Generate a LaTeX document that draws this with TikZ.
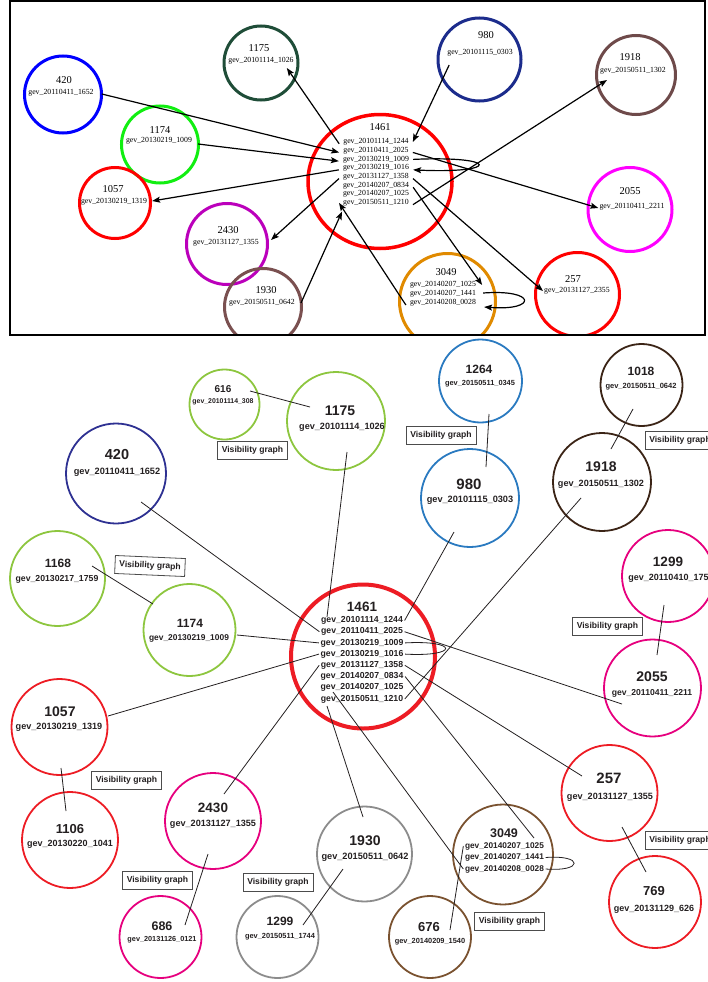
\documentclass[tikz,border=0pt]{standalone}
\usepackage{fontspec}
\setmainfont{Liberation Serif}
\newfontfamily\arialfont{Liberation Sans}
\usetikzlibrary{arrows.meta,calc,shapes.geometric}
\definecolor{tblue}{HTML}{0000FF}
\definecolor{tdgreen}{HTML}{1F4D38}
\definecolor{tgreen}{HTML}{11EE11}
\definecolor{tred}{HTML}{FF0000}
\definecolor{tpurple}{HTML}{BB00BB}
\definecolor{tbrown}{HTML}{7A5050}
\definecolor{tnavy}{HTML}{1C2C8C}
\definecolor{tbrowntwo}{HTML}{6E4A4A}
\definecolor{tmag}{HTML}{FF00FF}
\definecolor{torange}{HTML}{E08A00}
\definecolor{bgreen}{HTML}{8DC63F}
\definecolor{bnavy}{HTML}{2E3192}
\definecolor{bblue}{HTML}{2A7AC0}
\definecolor{bdbrown}{HTML}{3B2416}
\definecolor{bmag}{HTML}{E6007E}
\definecolor{bred}{HTML}{ED1C24}
\definecolor{bgrey}{HTML}{8C8C8C}
\definecolor{bbrown}{HTML}{7A5230}
\definecolor{btext}{HTML}{231F20}
\tikzset{
  tc/.style={circle, draw, inner sep=0pt, line width=3pt, minimum size=#1},
  bc/.style={circle, draw, inner sep=0pt, line width=1.8pt, minimum size=#1},
  tlab/.style={inner xsep=4pt, inner ysep=1pt, font=\fontsize{7.8}{8}\selectfont},
  ttit/.style={inner sep=1pt, font=\fontsize{10.5}{11}\selectfont},
  btit/.style={inner sep=1pt, text=btext, font=\arialfont\bfseries\fontsize{#1}{#1}\selectfont},
  blab/.style={inner sep=1.5pt, text=btext, font=\arialfont\bfseries\fontsize{#1}{#1}\selectfont},
  arr/.style={line width=1.2pt, -{Stealth[length=8pt,width=6pt,inset=1.5pt]}},
  bl/.style={line width=0.8pt, draw=btext},
  vg/.style={draw=black!70, line width=0.8pt, fill=white, minimum width=70pt, minimum height=18pt, inner sep=0pt, text=btext, font=\arialfont\bfseries\fontsize{8.6}{9}\selectfont}
}
\begin{document}
\begin{tikzpicture}[x=1pt,y=-1pt]
\useasboundingbox (0,0) rectangle (707,982);
% ================= TOP PANEL =================
\begin{scope}
\clip (10,1) rectangle (704.5,334.5);
\node[tc=77, draw=tblue] (c420) at (63,94.5) {};
\node[tc=74, draw=tdgreen] (c1175) at (261,63) {};
\node[tc=77, draw=tgreen] (c1174) at (160,144.5) {};
\node[tc=71, draw=tred] (c1057) at (115,203) {};
\node[tc=81, draw=tpurple] (c2430) at (227,244) {};
\node[tc=77, draw=tbrown] (c1930) at (263,307) {};
\node[ellipse, draw=tred, line width=3.5pt, inner sep=0pt, minimum width=144pt, minimum height=134pt] (c1461) at (380,181.5) {};
\node[tc=83, draw=tnavy] (c980) at (479.5,59.5) {};
\node[tc=79, draw=tbrowntwo] (c1918) at (636,75) {};
\node[tc=84, draw=tmag] (c2055) at (630,209.5) {};
\node[tc=96, draw=torange] (c3049) at (447.5,301.5) {};
\node[tc=84, draw=tred] (c257) at (577.5,294.5) {};
% texts
\node[ttit] (t420a) at (64,80) {420};
\node[tlab] (t420l) at (61,93) {gev\_20110411\_1652};
\node[ttit] (t1175a) at (259,48) {1175};
\node[tlab] (t1175l) at (261,61) {gev\_20101114\_1026};
\node[ttit] (t1174a) at (160,130) {1174};
\node[tlab] (t1174l) at (159,141) {gev\_20130219\_1009};
\node[ttit] (t1057a) at (113,189) {1057};
\node[tlab] (t1057l) at (114,202) {gev\_20130219\_1319};
\node[ttit] (t2430a) at (228,230) {2430};
\node[tlab] (t2430l) at (226,243) {gev\_20131127\_1355};
\node[ttit] (t1930a) at (266,290) {1930};
\node[tlab] (t1930l) at (262,303) {gev\_20150511\_0642};
\node[ttit] (t1461a) at (380,127) {1461};
\node[tlab] (T1) at (376,142) {gev\_20101114\_1244};
\node[tlab] (T2) at (376,150.7) {gev\_20110411\_2025};
\node[tlab] (T3) at (376,159.4) {gev\_20130219\_1009};
\node[tlab] (T4) at (376,168.1) {gev\_20130219\_1016};
\node[tlab] (T5) at (376,176.8) {gev\_20131127\_1358};
\node[tlab] (T6) at (376,185.5) {gev\_20140207\_0834};
\node[tlab] (T7) at (376,194.2) {gev\_20140207\_1025};
\node[tlab] (T8) at (376,202.9) {gev\_20150511\_1210};
\node[ttit] (t980a) at (486,35) {980};
\node[tlab] (t980l) at (480,53) {gev\_20101115\_0303};
\node[ttit] (t1918a) at (630,57) {1918};
\node[tlab] (t1918l) at (633,71) {gev\_20150511\_1302};
\node[ttit] (t2055a) at (630,191) {2055};
\node[tlab] (t2055l) at (632,207) {gev\_20110411\_2211};
\node[ttit] (t3049t) at (446,272) {3049};
\node[tlab] (t3049a) at (443,285) {gev\_20140207\_1025};
\node[tlab] (t3049b) at (443,294) {gev\_20140207\_1441};
\node[tlab] (t3049c) at (443,303) {gev\_20140208\_0028};
\node[ttit] (t257a) at (573,279) {257};
\node[tlab] (t257l) at (577,291) {gev\_20131127\_2355};
% arrows
\draw[arr] ($(t420l.east)+(4,1)$) -- (T2.base west);
\draw[arr] ($(t1174l.east)+(2,3)$) -- (T3.base west);
\draw[arr] (T4.base west) -- ($(t1057l.east)+(1,-1)$);
\draw[arr] (T1.base west) -- ($(t1175l.east)+(-11,7)$);
\draw[arr] ($(t980l.west)+(6,12)$) -- (T1.east);
\draw[arr] (T8.base east) -- ($(t1918l.west)+(11,9)$);
\draw[arr] (T2.base east) -- ($(t2055l.west)+(3,1)$);
\draw[arr] (T3.east) .. controls +(87,-4) and +(87,4) .. (T4.base east);
\draw[arr] (T5.base west) -- ($(t2430l.east)+(8,-3)$);
\draw[arr] ($(t1930l.east)+(2,0)$) -- ($(T8.base west)+(3,7)$);
\draw[arr] ($(t3049c.west)+(0,2)$) -- (T8.west);
\draw[arr] (T6.base east) -- ($(t3049a.east)+(2,0)$);
\draw[arr] (T5.base east) -- ($(t257l.west)+(3,0)$);
\draw[arr] ($(t3049b.east)+(3,-1)$) .. controls +(54,-4) and +(53,4) .. ($(t3049c.east)+(4,4)$);
\end{scope}
\draw[line width=2pt] (10,1) rectangle (704.5,334.5);
% ================= BOTTOM PANEL =================
\node[bc=70, draw=bgreen] (b616) at (224.5,404.5) {};
\node[bc=98, draw=bgreen] (b1175) at (336,421) {};
\node[bc=100, draw=bnavy] (b420) at (116,473.5) {};
\node[bc=95, draw=bgreen] (b1168) at (57.5,578.5) {};
\node[bc=92, draw=bgreen] (b1174) at (189.5,630) {};
\node[bc=83, draw=bblue] (b1264) at (480.5,381) {};
\node[bc=98, draw=bblue] (b980) at (470,498) {};
\node[bc=82, draw=bdbrown] (b1018) at (641.5,385) {};
\node[bc=98, draw=bdbrown] (b1918) at (602,482) {};
\node[bc=92, draw=bmag] (b1299a) at (668,576) {};
\node[bc=97, draw=bmag] (b2055) at (652.5,688) {};
\node[bc=96, draw=bred] (b257) at (609.5,793) {};
\node[bc=92, draw=bred] (b769) at (655,902) {};
\node[bc=100, draw=bbrown] (b3049) at (503,854.5) {};
\node[bc=82, draw=bbrown] (b676) at (430,937) {};
\node[bc=95, draw=bgrey] (b1930) at (364.5,854) {};
\node[bc=82, draw=bgrey] (b1299b) at (277.5,937) {};
\node[bc=96, draw=bmag] (b2430) at (213,821) {};
\node[bc=82, draw=bmag] (b686) at (160.5,937) {};
\node[bc=96, draw=bred] (b1057) at (59.5,727) {};
\node[bc=96, draw=bred] (b1106) at (70,840) {};
\node[circle, draw=bred, line width=4pt, inner sep=0pt, minimum size=144pt] (b1461) at (363,656.5) {};
% texts
\node[btit=10] (s616a) at (223,389) {616};
\node[blab=6.9] (s616l) at (223,402) {gev\_20101114\_308};
\node[btit=14] (s1175a) at (340,411) {1175};
\node[blab=9.1] (s1175l) at (342,427) {gev\_20101114\_1026};
\node[btit=14.5] (s420a) at (117,455) {420};
\node[blab=9.2] (s420l) at (117,472) {gev\_20110411\_1652};
\node[btit=12] (s1168a) at (58,563) {1168};
\node[blab=8.7] (s1168l) at (57,579) {gev\_20130217\_1759};
\node[btit=12] (s1174a) at (190,623) {1174};
\node[blab=8.4] (s1174l) at (189,638) {gev\_20130219\_1009};
\node[btit=13.5] (s1461a) at (362,607) {1461};
\node[blab=8.7] (B1) at (362,620.5) {gev\_20101114\_1244};
\node[blab=8.7] (B2) at (362,631.7) {gev\_20110411\_2025};
\node[blab=8.7] (B3) at (362,642.9) {gev\_20130219\_1009};
\node[blab=8.7] (B4) at (362,654.1) {gev\_20130219\_1016};
\node[blab=8.7] (B5) at (362,665.3) {gev\_20131127\_1358};
\node[blab=8.7] (B6) at (362,676.5) {gev\_20140207\_0834};
\node[blab=8.7] (B7) at (362,687.7) {gev\_20140207\_1025};
\node[blab=8.7] (B8) at (362,698.9) {gev\_20150511\_1210};
\node[btit=12] (s1264a) at (479,369) {1264};
\node[blab=7.4] (s1264l) at (480,384) {gev\_20150511\_0345};
\node[btit=15] (s980a) at (469,484) {980};
\node[blab=9.2] (s980l) at (470,500) {gev\_20101115\_0303};
\node[btit=12] (s1018a) at (641,371) {1018};
\node[blab=7.5] (s1018l) at (641,387) {gev\_20150511\_0642};
\node[btit=14] (s1918a) at (601,467) {1918};
\node[blab=9.1] (s1918l) at (601,484) {gev\_20150511\_1302};
\node[btit=13.5] (s1299aa) at (668,562) {1299};
\node[blab=9] (s1299al) at (671,578) {gev\_20110410\_1753};
\node[btit=14] (s2055a) at (652,677) {2055};
\node[blab=8.6] (s2055l) at (652,693) {gev\_20110411\_2211};
\node[btit=15] (s257a) at (609,778) {257};
\node[blab=9.1] (s257l) at (610,797) {gev\_20131127\_1355};
\node[btit=13] (s769a) at (654,891) {769};
\node[blab=9] (s769l) at (654,909) {gev\_20131129\_626};
\node[btit=12.5] (s3049a) at (504,833) {3049};
\node[blab=8.3] (C1) at (504.5,846) {gev\_20140207\_1025};
\node[blab=8.3] (C2) at (504.5,857.5) {gev\_20140207\_1441};
\node[blab=8.3] (C3) at (504.5,869) {gev\_20140208\_0028};
\node[btit=13] (s676a) at (429,927) {676};
\node[blab=7.4] (s676l) at (430,942) {gev\_20140209\_1540};
\node[btit=14] (s1930a) at (365,841) {1930};
\node[blab=9.2] (s1930l) at (365,857) {gev\_20150511\_0642};
\node[btit=12] (s1299ba) at (280,921) {1299};
\node[blab=7.4] (s1299bl) at (280,937) {gev\_20150511\_1744};
\node[btit=13.5] (s2430a) at (213,808) {2430};
\node[blab=9.1] (s2430l) at (213,824) {gev\_20131127\_1355};
\node[btit=12.5] (s686a) at (162,926) {686};
\node[blab=7.3] (s686l) at (162,940) {gev\_20131126\_0121};
\node[btit=14] (s1057a) at (60,712) {1057};
\node[blab=9.1] (s1057l) at (59,727) {gev\_20130219\_1319};
\node[btit=13] (s1106a) at (70,829) {1106};
\node[blab=9] (s1106l) at (70,844) {gev\_20130220\_1041};
% connectors
\draw[bl] ($(b616)+(25.5,-13.5)$) -- ($(b1175)+(-26,-14)$);
\draw[bl] ($(b1175)+(11,31)$) -- ($(b1461)+(-36,-39.5)$);
\draw[bl] ($(b420)+(25,28.5)$) -- (B2.west);
\draw[bl] ($(b1168)+(34.5,-12.5)$) -- ($(b1174)+(-36.5,-26)$);
\draw[bl] ($(b1174)+(47.5,5)$) -- (B3.west);
\draw[bl] (B4.west) -- ($(b1057)+(48.5,-11)$);
\draw[bl] ($(b1264)+(8.5,33)$) -- ($(b980)+(16,-31)$);
\draw[bl] ($(b980)+(-16,34)$) -- (B1.east);
\draw[bl] ($(b1018)+(-8.5,24)$) -- ($(b1918)+(9,-33)$);
\draw[bl] ($(b1918)+(-21,16)$) -- (B8.east);
\draw[bl] ($(b1299a)+(-4,29)$) -- ($(b2055)+(4.5,-33)$);
\draw[bl] (B2.east) -- ($(b2055)+(-30.5,16)$);
\draw[bl] (B3.east) .. controls +(54,-3) and +(54,3) .. (B4.east);
\draw[bl] (B5.east) -- ($(b257)+(-27.5,-17)$);
\draw[bl] ($(b257)+(12.5,34)$) -- ($(b769)+(-9,-30)$);
\draw[bl] (B6.east) -- ($(b3049)+(31,-16.5)$);
\draw[bl] ($(b1461)+(-30,35.5)$) -- (C3.west);
\draw[bl] ($(b1461)+(-36,49.5)$) -- ($(b1930)+(-1.5,-37)$);
\draw[bl] (B5.west) -- ($(b2430)+(11,-27)$);
\draw[bl] ($(b2430)+(-5,33)$) -- ($(b686)+(24.5,-12)$);
\draw[bl] ($(b1930)+(-21.5,15)$) -- ($(b1299b)+(25.5,-12)$);
\draw[bl] ($(b1057)+(1.5,41)$) -- ($(b1106)+(-4,-29)$);
\draw[bl] (C1.west) -- ($(b676)+(20,-7)$);
\draw[bl] (C2.east) .. controls +(38,-3) and +(38,3) .. (C3.east);
% visibility graph boxes
\node[vg] (vg1) at (252.5,450) {Visibility graph};
\node[vg, rotate=-2.5] (vg2) at (150,566) {Visibility graph};
\node[vg] (vg3) at (441,435) {Visibility graph};
\node[vg] (vg4) at (680,440.5) {Visibility graph};
\node[vg] (vg5) at (607.5,626) {Visibility graph};
\node[vg] (vg6) at (126.5,780) {Visibility graph};
\node[vg] (vg7) at (157.5,880) {Visibility graph};
\node[vg] (vg8) at (278,882) {Visibility graph};
\node[vg] (vg9) at (509.5,921) {Visibility graph};
\node[vg] (vg10) at (680,840.5) {Visibility graph};
\end{tikzpicture}
\end{document}
